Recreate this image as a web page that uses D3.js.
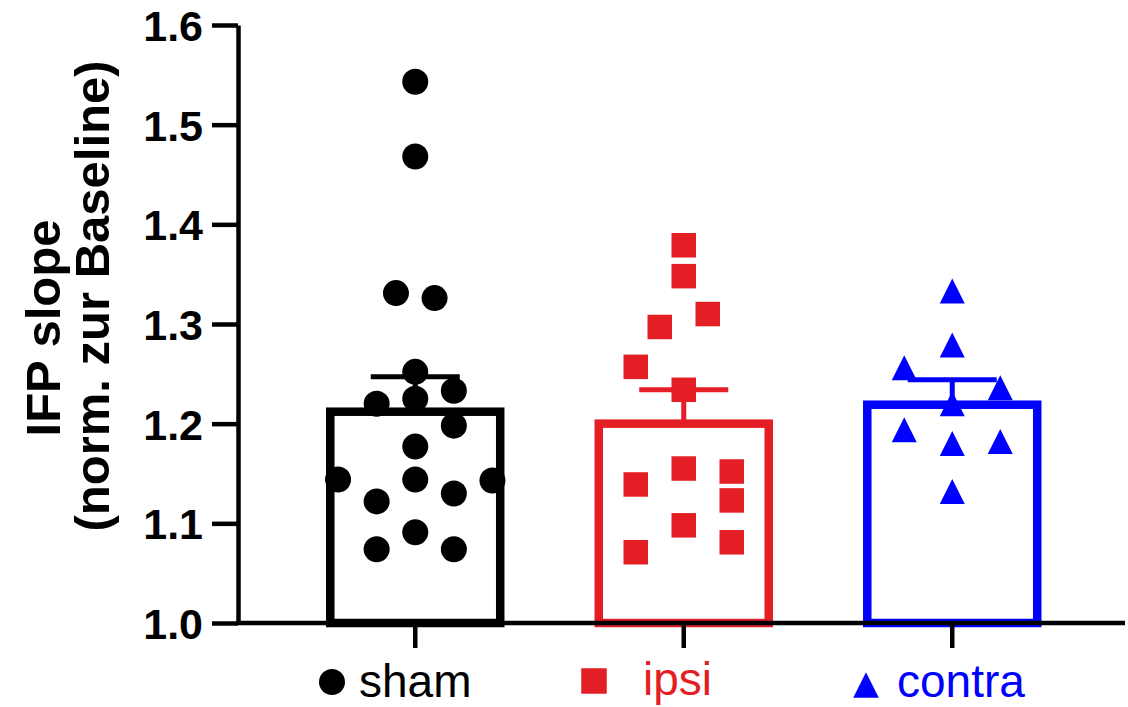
<!DOCTYPE html>
<head>
<meta charset="utf-8">
<style>
  body { margin: 0; background: #fff; }
  svg { display: block; background: #fff; font-family: "Liberation Sans", Arial, sans-serif; }
  .axis text { font-size: 43px; font-weight: bold; fill: #000; }
  .axis line, .axis path { stroke: #000; stroke-width: 4.5px; fill: none; }
</style>
<script src="https://d3js.org/d3.v7.min.js"></script>
</head>
<body>
<div id="chart"></div>
<script>
// groups and summary values (mean, SEM)
var groups = ["sham", "ipsi", "contra"];
var groupColors = ["#000000", "#E31E24", "#0000FF"];
var means = [1.212, 1.200, 1.219];
var sems = [0.035, 0.034, 0.025];
var yTicks = [1.0, 1.1, 1.2, 1.3, 1.4, 1.5, 1.6];

// individual points; slot = column of the scatter within a bar
var shamValues = [1.543, 1.468, 1.331, 1.326, 1.252, 1.220, 1.225, 1.233, 1.198, 1.177, 1.144, 1.143, 1.144, 1.122, 1.130, 1.091, 1.074, 1.074];
var shamSlots  = [0, 0, -1, 1, 0, -2, 0, 2, 2, 0, -4, 4, 0, -2, 2, 0, -2, 2];
var ipsiValues = [1.379, 1.348, 1.310, 1.297, 1.257, 1.234, 1.139, 1.155, 1.152, 1.123, 1.098, 1.081, 1.071];
var ipsiSlots  = [0, 0, 1, -1, -2, 0, -2, 0, 2, 2, 0, 2, -2];
var contraValues = [1.333, 1.279, 1.256, 1.236, 1.220, 1.194, 1.180, 1.182, 1.132];
var contraSlots  = [0, 0, -2, 2, 0, -2, 0, 2, 0];

var W = 1128, H = 707;
var svg = d3.select("#chart").append("svg").attr("width", W).attr("height", H);

var y = d3.scaleLinear().domain([1.0, 1.6]).range([623, 25]);
var x = d3.scaleBand().domain(groups).range([281, 1086.5]).paddingInner(0.367).paddingOuter(0.1835);
var cx = function (g) { return x(g) + x.bandwidth() / 2; };

// bars
svg.selectAll(".bar").data(groups).enter().append("rect")
  .attr("class", "bar")
  .attr("x", function (d) { return x(d); })
  .attr("y", function (d, i) { return y(means[i]); })
  .attr("width", x.bandwidth())
  .attr("height", function (d, i) { return y(1.0) - y(means[i]); })
  .attr("fill", "none")
  .attr("stroke", function (d, i) { return groupColors[i]; })
  .attr("stroke-width", 8.5);

// error bars (mean + SEM)
var eb = svg.selectAll(".err").data(groups).enter().append("g").attr("class", "err")
  .attr("stroke", function (d, i) { return groupColors[i]; })
  .attr("stroke-width", 5);
eb.append("line")
  .attr("x1", function (d) { return cx(d); }).attr("x2", function (d) { return cx(d); })
  .attr("y1", function (d, i) { return y(means[i]); })
  .attr("y2", function (d, i) { return y(means[i] + sems[i]); });
eb.append("line")
  .attr("x1", function (d) { return cx(d) - 44.5; }).attr("x2", function (d) { return cx(d) + 44.5; })
  .attr("y1", function (d, i) { return y(means[i] + sems[i]); })
  .attr("y2", function (d, i) { return y(means[i] + sems[i]); });

// axes
var yAxis = d3.axisLeft(y).tickValues(yTicks).tickFormat(d3.format(".1f"))
  .tickSize(26).tickSizeOuter(0).tickPadding(9);
var gy = svg.append("g").attr("class", "axis").attr("transform", "translate(238,0)").call(yAxis);
gy.selectAll("text").attr("dy", "0.36em");

var xAxis = d3.axisBottom(x).tickSize(25).tickSizeOuter(0).tickFormat("");
var gx = svg.append("g").attr("class", "axis").attr("transform", "translate(0," + y(1.0) + ")").call(xAxis);
gx.select(".domain").remove();
gx.append("line").attr("x1", 236).attr("x2", 1125).attr("y1", 0).attr("y2", 0);

// symbols
function drawSymbol(sel, kind, color, size) {
  if (kind === "circle") {
    sel.append("circle").attr("r", size / 2).attr("fill", color);
  } else if (kind === "square") {
    sel.append("rect").attr("x", -size / 2).attr("y", -size / 2)
      .attr("width", size).attr("height", size).attr("fill", color);
  } else {
    var h = size / 2;
    sel.append("path").attr("d", "M0," + (-h) + "L" + h + "," + h + "L" + (-h) + "," + h + "Z").attr("fill", color);
  }
}

var sets = [
  { g: "sham", vals: shamValues, slots: shamSlots, kind: "circle", size: 26, unit: 19.3, c: groupColors[0] },
  { g: "ipsi", vals: ipsiValues, slots: ipsiSlots, kind: "square", size: 24.5, unit: 24, c: groupColors[1] },
  { g: "contra", vals: contraValues, slots: contraSlots, kind: "triangle", size: 25, unit: 24, c: groupColors[2] }
];

sets.forEach(function (s) {
  var pts = s.vals.map(function (v, i) { return { v: v, slot: s.slots[i] }; });
  svg.selectAll(".pt-" + s.g).data(pts).enter().append("g")
    .attr("class", "pt-" + s.g)
    .attr("transform", function (d) { return "translate(" + (cx(s.g) + d.slot * s.unit) + "," + y(d.v) + ")"; })
    .each(function () { drawSymbol(d3.select(this), s.kind, s.c, s.size); });
});

// y title
svg.append("text")
  .attr("transform", "translate(60,328) rotate(-90)")
  .attr("text-anchor", "middle")
  .style("font-size", "49px").style("font-weight", "bold")
  .text("IFP slope");
svg.append("text")
  .attr("transform", "translate(109,296) rotate(-90)")
  .attr("text-anchor", "middle")
  .style("font-size", "49px").style("font-weight", "bold")
  .text("(norm. zur Baseline)");

// legend
var legendLayout = [
  { mx: 332, my: 682, tx: 359, ty: 697 },
  { mx: 594, my: 681, tx: 643, ty: 695 },
  { mx: 866, my: 685, tx: 897, ty: 697 }
];
sets.forEach(function (s, i) {
  var L = legendLayout[i];
  var g = svg.append("g").attr("transform", "translate(" + L.mx + "," + L.my + ")");
  drawSymbol(g, s.kind, s.c, s.kind === "circle" ? 26 : 25.5);
  svg.append("text").attr("x", L.tx).attr("y", L.ty)
    .attr("fill", s.c).style("font-size", "46px")
    .text(groups[i]);
});
</script>
</body>
